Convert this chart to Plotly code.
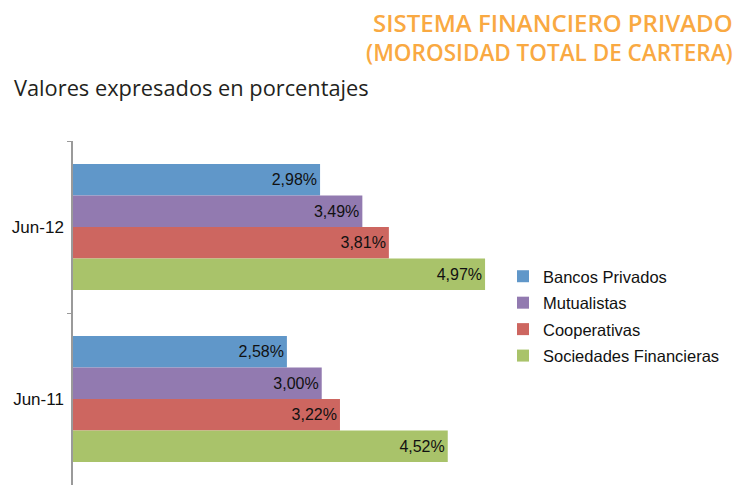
import plotly.graph_objects as go

categories = ["Jun-12", "Jun-11"]
series_names = ["Bancos Privados", "Mutualistas", "Cooperativas", "Sociedades Financieras"]
bancos = [2.98, 2.58]
mutualistas = [3.49, 3.00]
cooperativas = [3.81, 3.22]
sociedades = [4.97, 4.52]
colors = ["#6097C9", "#927AB0", "#CD6660", "#A9C36A"]

values = [bancos, mutualistas, cooperativas, sociedades]

fig = go.Figure()
for name, vals, col in zip(series_names, values, colors):
    fig.add_trace(go.Bar(
        y=categories, x=vals, name=name, orientation="h", legendgroup=name,
        marker=dict(color=col, line=dict(width=0)),
        text=[f"{v:.2f}%".replace(".", ",") for v in vals],
        textposition="inside", insidetextanchor="end", textangle=0,
        constraintext="none",
        textfont=dict(family="Liberation Sans, Arial", size=16, color="#111"),
    ))

L, W, T, H = 73, 456, 141, 344

def px(xp):
    return (xp - L) / W

def py(yp):
    return (T + H - yp) / H

title_font = dict(family="Open Sans", color="#F9A942", weight=600)

fig.update_layout(
    width=741, height=485,
    margin=dict(l=L, r=741 - L - W, t=T, b=485 - T - H, pad=0),
    paper_bgcolor="white", plot_bgcolor="white",
    barmode="group", bargap=0.267, bargroupgap=0,
    showlegend=True,
    legend=dict(x=px(503), y=py(259), xanchor="left", yanchor="top",
                font=dict(family="Liberation Sans, Arial", size=16.5, color="#111"),
                bgcolor="rgba(0,0,0,0)", traceorder="grouped", tracegroupgap=2),
    xaxis=dict(range=[0, 5.5], visible=False, showgrid=False, zeroline=False),
    yaxis=dict(type="category", range=[1.5, -0.5], showgrid=False, zeroline=False,
               showline=True, linecolor="#9a9a9a", linewidth=1.5,
               ticks="outside", tickson="boundaries", ticklen=4, tickcolor="#9a9a9a",
               tickfont=dict(family="Liberation Sans, Arial", size=17, color="#111"),
               ticklabelstandoff=4),
    annotations=[
        dict(text="SISTEMA FINANCIERO PRIVADO",
             xref="paper", yref="paper", x=px(735), y=py(22),
             xanchor="right", yanchor="middle", align="right", showarrow=False,
             font=dict(size=24, **title_font)),
        dict(text="(MOROSIDAD TOTAL DE CARTERA)",
             xref="paper", yref="paper", x=px(735), y=py(52),
             xanchor="right", yanchor="middle", align="right", showarrow=False,
             font=dict(size=22.5, **title_font)),
        dict(text="Valores expresados en porcentajes",
             xref="paper", yref="paper", x=px(12), y=py(88),
             xanchor="left", yanchor="middle", showarrow=False,
             font=dict(family="Open Sans", size=21.8, color="#231F20")),
    ],
)

fig.write_html("out.html", config={"displayModeBar": False},
               post_script="document.body.style.margin='0';document.body.style.overflow='hidden';")
